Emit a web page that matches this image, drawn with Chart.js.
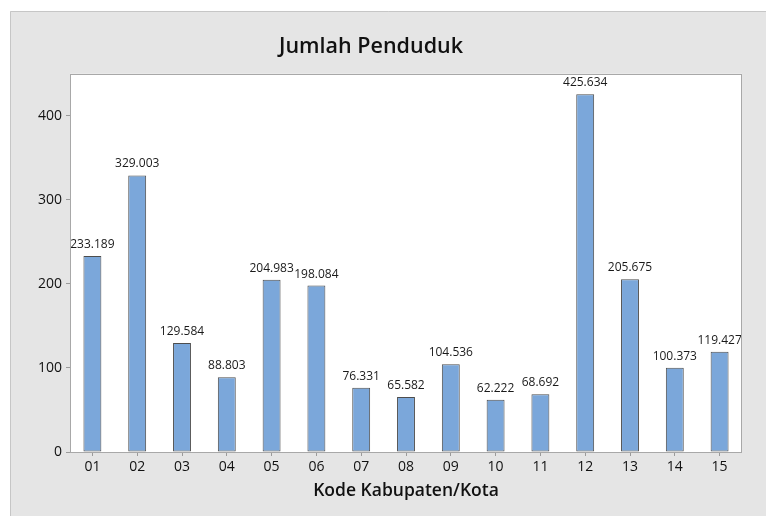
<!DOCTYPE html>
<html>
<head>
<meta charset="utf-8">
<script src="https://cdn.jsdelivr.net/npm/chart.js@4.4.1/dist/chart.umd.min.js"></script>
<style>
  html, body { margin: 0; padding: 0; background: #ffffff; }
  #wrap { width: 766px; height: 516px; }
</style>
</head>
<body>
<div id="wrap"><canvas id="pendudukChart" width="766" height="516"></canvas></div>
<script>
// chart data
const kodeKab = ['01', '02', '03', '04', '05', '06', '07', '08', '09', '10', '11', '12', '13', '14', '15'];
const jumlahPenduduk = [233.189, 329.003, 129.584, 88.803, 204.983, 198.084, 76.331, 65.582, 104.536, 62.222, 68.692, 425.634, 205.675, 100.373, 119.427];
const yTicks = [0, 100, 200, 300, 400];

const FONT = '"Open Sans", "Noto Sans", sans-serif';

// gray panel + plot frame + value labels
const minitabLook = {
  id: 'minitabLook',
  beforeDraw(chart) {
    const ctx = chart.ctx;
    const a = chart.chartArea;
    ctx.save();
    ctx.fillStyle = '#ffffff';
    ctx.fillRect(0, 0, chart.width, chart.height);
    ctx.fillStyle = '#e5e5e5';
    ctx.fillRect(10, 11, chart.width - 10, chart.height - 11);
    ctx.strokeStyle = '#c6c6c6';
    ctx.lineWidth = 1;
    ctx.beginPath();
    ctx.moveTo(10.5, chart.height);
    ctx.lineTo(10.5, 11.5);
    ctx.lineTo(chart.width, 11.5);
    ctx.stroke();
    ctx.fillStyle = '#ffffff';
    ctx.fillRect(a.left, a.top, a.right - a.left, a.bottom - a.top);
    ctx.restore();
  },
  afterDatasetsDraw(chart) {
    const ctx = chart.ctx;
    const a = chart.chartArea;
    const meta = chart.getDatasetMeta(0);
    ctx.save();
    ctx.font = '12px ' + FONT;
    ctx.fillStyle = '#1a1a1a';
    ctx.textAlign = 'center';
    ctx.textBaseline = 'alphabetic';
    meta.data.forEach((bar, i) => {
      const txt = jumlahPenduduk[i].toFixed(3);
      ctx.fillText(txt, bar.x, bar.y - 8);
    });
    ctx.strokeStyle = '#a8a8a8';
    ctx.lineWidth = 1;
    ctx.strokeRect(Math.round(a.left) + 0.5, Math.round(a.top) + 0.5,
      Math.round(a.right - a.left) - 1, Math.round(a.bottom - a.top));
    ctx.restore();
  }
};

const ctx = document.getElementById('pendudukChart').getContext('2d');
new Chart(ctx, {
  type: 'bar',
  data: {
    labels: kodeKab,
    datasets: [{
      label: 'Jumlah Penduduk',
      data: jumlahPenduduk,
      backgroundColor: '#7ba7da',
      borderColor: '#4d4d4d',
      borderWidth: 1,
      borderSkipped: false,
      barPercentage: 0.4,
      categoryPercentage: 1.0
    }]
  },
  options: {
    responsive: false,
    animation: false,
    layout: { padding: { left: 0, right: 24, top: 0, bottom: 0 } },
    plugins: {
      legend: { display: false },
      tooltip: { enabled: false },
      title: {
        display: true,
        text: 'Jumlah Penduduk',
        color: '#111111',
        font: { family: FONT, size: 21.5, weight: '600', lineHeight: 1.2 },
        padding: { top: 34, bottom: 14 }
      }
    },
    scales: {
      x: {
        afterFit(scale) { scale.height = 64; },
        grid: { display: true, offset: false, drawOnChartArea: false, drawTicks: true, tickLength: 4, color: '#9a9a9a' },
        border: { display: false },
        ticks: { color: '#111111', padding: 3, font: { family: FONT, size: 14 } },
        title: {
          display: true,
          text: 'Kode Kabupaten/Kota',
          color: '#111111',
          font: { family: FONT, size: 17.5, weight: '600', lineHeight: 1.2 },
          padding: { top: 0, bottom: 14 }
        }
      },
      y: {
        min: 0,
        max: 450,
        afterFit(scale) { scale.width = 70; },
        afterBuildTicks(scale) { scale.ticks = yTicks.map(v => ({ value: v })); },
        grid: { display: true, drawOnChartArea: false, drawTicks: true, tickLength: 4, color: '#9a9a9a' },
        border: { display: false },
        ticks: { color: '#111111', padding: 4, font: { family: FONT, size: 14 } }
      }
    }
  },
  plugins: [minitabLook]
});
</script>
</body>
</html>
